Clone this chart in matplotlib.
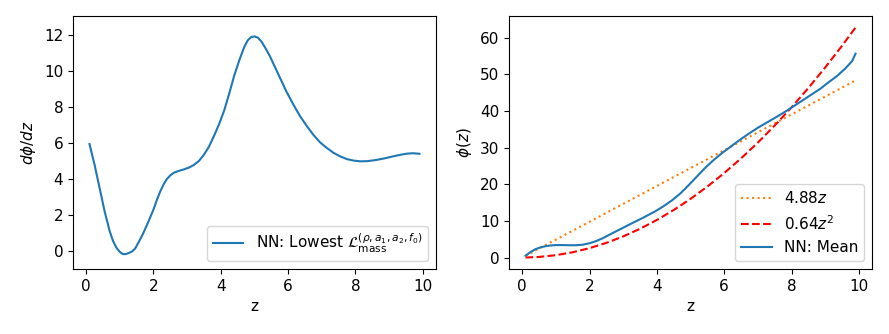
import matplotlib
matplotlib.use("Agg")
import matplotlib.pyplot as plt

plt.rcParams['font.size'] = 11

# left panel: d(phi)/dz of the network
z_left = [0.1, 0.25, 0.4, 0.55, 0.7, 0.8, 0.9, 1.0, 1.07, 1.13, 1.2, 1.28, 1.36, 1.45, 1.55,
          1.7, 1.85, 2.0, 2.1, 2.2, 2.3, 2.4, 2.5, 2.6, 2.75, 2.9, 3.05, 3.2, 3.35, 3.5,
          3.65, 3.8, 3.95, 4.1, 4.25, 4.4, 4.55, 4.7, 4.8, 4.9, 5.0, 5.1, 5.2, 5.3, 5.45,
          5.6, 5.75, 5.95, 6.15, 6.35, 6.55, 6.75, 6.95, 7.15, 7.35, 7.55, 7.75, 7.95,
          8.15, 8.35, 8.6, 8.85, 9.1, 9.3, 9.5, 9.7, 9.9]
dphi_left = [5.94, 4.8, 3.5, 2.2, 1.1, 0.55, 0.18, -0.05, -0.15, -0.18, -0.16, -0.1, -0.03,
             0.12, 0.45, 1.0, 1.63, 2.3, 2.83, 3.3, 3.7, 4.0, 4.2, 4.34, 4.45, 4.53, 4.63,
             4.78, 5.0, 5.35, 5.8, 6.4, 7.05, 7.8, 8.75, 9.75, 10.6, 11.35, 11.7, 11.88,
             11.92, 11.85, 11.65, 11.35, 10.85, 10.25, 9.65, 8.85, 8.15, 7.5, 6.95, 6.45,
             6.03, 5.72, 5.45, 5.25, 5.1, 5.02, 4.98, 4.99, 5.05, 5.14, 5.25, 5.33, 5.4,
             5.43, 5.4]

# right panel: phi(z)
z_mean = [0.1, 0.25, 0.4, 0.55, 0.7, 0.85, 1.0, 1.2, 1.4, 1.6, 1.8, 2.0, 2.2, 2.4, 2.65,
          2.95, 3.25, 3.6, 3.95, 4.2, 4.45, 4.7, 4.95, 5.2, 5.45, 5.7, 5.95, 6.2, 6.45,
          6.7, 7.0, 7.3, 7.6, 7.85, 8.1, 8.35, 8.6, 8.85, 9.1, 9.35, 9.6, 9.8, 9.9]
phi_mean = [0.5, 1.5, 2.3, 2.8, 3.1, 3.3, 3.4, 3.4, 3.35, 3.35, 3.5, 3.9, 4.5, 5.3, 6.5,
            7.9, 9.3, 10.9, 12.6, 14.0, 15.6, 17.5, 19.8, 22.2, 24.6, 26.7, 28.6, 30.3,
            32.0, 33.6, 35.4, 37.0, 38.6, 40.0, 41.5, 43.0, 44.5, 46.0, 47.8, 49.5, 51.6,
            53.6, 55.6]

z_lin = [0.1, 9.9]
phi_lin = [0.49, 48.3]

z_quad = [0.1, 0.5, 1.0, 1.5, 2.0, 2.5, 3.0, 3.5, 4.0, 4.5, 5.0, 5.5, 6.0, 6.5, 7.0,
          7.5, 8.0, 8.5, 9.0, 9.5, 9.9]
phi_quad = [0.01, 0.16, 0.64, 1.44, 2.56, 4.0, 5.76, 7.84, 10.24, 12.96, 16.0, 19.36,
            23.04, 27.04, 31.36, 36.0, 40.96, 46.24, 51.84, 57.76, 62.73]

fig = plt.figure(figsize=(8.89, 3.34), dpi=100)
ax1 = fig.add_axes([0.0821, 0.1946, 0.4083, 0.7574])
ax2 = fig.add_axes([0.5726, 0.1946, 0.4083, 0.7574])

ax1.plot(z_left, dphi_left, color='C0', lw=1.5,
         label=r'NN: Lowest $\mathcal{L}^{(\rho,a_1,a_2,f_0)}_{\mathrm{mass}}$')
ax1.set_ylim(-1.0, 13.05)
ax1.set_xticks([0, 2, 4, 6, 8, 10])
ax1.set_yticks([0, 2, 4, 6, 8, 10, 12])
ax1.set_xlabel('z')
ax1.set_ylabel(r'$d\phi/dz$')
ax1.legend(loc='lower right')

ax2.plot(z_lin, phi_lin, ':', color='C1', lw=1.5, label=r'$4.88z$')
ax2.plot(z_quad, phi_quad, 'r--', lw=1.5, label=r'$0.64z^2$')
ax2.plot(z_mean, phi_mean, color='C0', lw=1.5, label='NN: Mean')
ax2.set_xticks([0, 2, 4, 6, 8, 10])
ax2.set_xlabel('z')
ax2.set_ylabel(r'$\phi(z)$')
ax2.legend(loc='lower right')

fig.savefig('out.png', dpi=100)
